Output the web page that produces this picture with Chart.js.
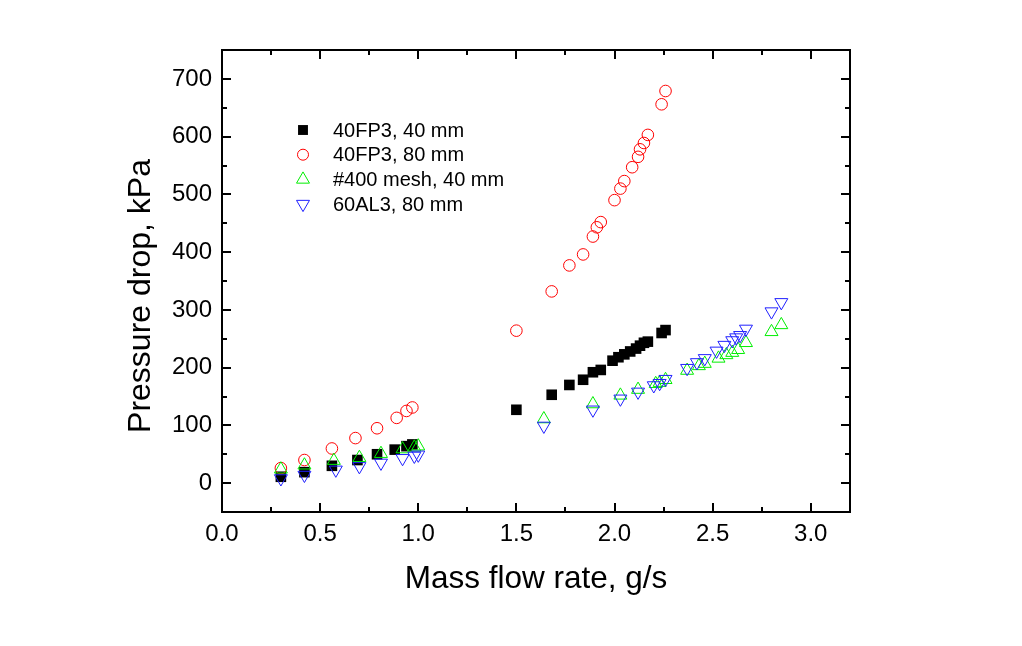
<!DOCTYPE html>
<html>
<head>
<meta charset="utf-8">
<script src="https://cdn.jsdelivr.net/npm/chart.js@4/dist/chart.umd.min.js"></script>
<style>
  html, body { margin: 0; padding: 0; background: #ffffff; }
  #wrap { width: 1022px; height: 646px; position: relative; }
</style>
</head>
<body>
<div id="wrap"><canvas id="c" width="1022" height="646"></canvas></div>
<script>
// ---- Data ----
const seriesNames = ["40FP3, 40 mm", "40FP3, 80 mm", "#400 mesh, 40 mm", "60AL3, 80 mm"];

const fp3_40_x = [0.30, 0.42, 0.56, 0.69, 0.79, 0.88, 0.94, 0.97,
                  1.50, 1.68, 1.77, 1.84, 1.89, 1.93, 1.99, 2.02, 2.05, 2.08, 2.11, 2.13, 2.15, 2.17, 2.24, 2.26];
const fp3_40_y = [11, 19, 30, 40, 50, 58, 64, 67,
                  127, 153, 170, 179, 192, 196, 212, 218, 223, 228, 233, 238, 243, 245, 260, 265];

const fp3_80_x = [0.30, 0.42, 0.56, 0.68, 0.79, 0.89, 0.94, 0.97,
                  1.50, 1.68, 1.77, 1.84, 1.89, 1.91, 1.93, 2.00, 2.03, 2.05, 2.09, 2.12, 2.13, 2.15, 2.17, 2.24, 2.26];
const fp3_80_y = [26, 40, 60, 78, 95, 113, 125, 131,
                  264, 332, 377, 396, 427, 443, 452, 490, 510, 523, 547, 565, 578, 589, 603, 656, 679];

const mesh_x = [0.30, 0.42, 0.57, 0.70, 0.81, 0.92, 0.98, 1.00,
                1.64, 1.89, 2.03, 2.12, 2.21, 2.23, 2.26, 2.37, 2.43, 2.46, 2.53, 2.57, 2.60, 2.63, 2.67, 2.80, 2.85];
const mesh_y = [24, 31, 39, 44, 51, 59, 62, 64,
                111, 137, 152, 162, 172, 174, 179, 195, 203, 207, 216, 222, 226, 231, 243, 262, 274];

const al3_x = [0.30, 0.42, 0.58, 0.70, 0.81, 0.92, 0.98, 1.00,
               1.64, 1.89, 2.03, 2.12, 2.20, 2.23, 2.26, 2.37, 2.42, 2.46, 2.52, 2.56, 2.60, 2.62, 2.64, 2.67, 2.80, 2.85];
const al3_y = [8, 14, 23, 29, 35, 43, 47, 49,
               99, 127, 146, 158, 169, 173, 180, 199, 209, 216, 229, 239, 247, 252, 256, 267, 297, 313];

const xTicks = [0.0, 0.5, 1.0, 1.5, 2.0, 2.5, 3.0];
const yTicks = [0, 100, 200, 300, 400, 500, 600, 700];
const xTitle = "Mass flow rate, g/s";
const yTitle = "Pressure drop, kPa";

// ---- Build chart ----
function pts(xs, ys) { return xs.map((x, i) => ({ x: x, y: ys[i] })); }

const FONT = "'Liberation Sans', Arial, sans-serif";

const datasets = [
  { label: seriesNames[0], data: pts(fp3_40_x, fp3_40_y), pointStyle: 'rect', pointRadius: 7.5,
    backgroundColor: '#000000', borderColor: '#000000', borderWidth: 0, order: 4 },
  { label: seriesNames[1], data: pts(fp3_80_x, fp3_80_y), pointStyle: 'circle', pointRadius: 5.8,
    backgroundColor: 'rgba(0,0,0,0)', borderColor: '#ff0000', borderWidth: 1, order: 3 },
  { label: seriesNames[2], data: pts(mesh_x, mesh_y), pointStyle: 'triangle', pointRadius: 7.5,
    backgroundColor: 'rgba(0,0,0,0)', borderColor: '#00ee00', borderWidth: 1, order: 2 },
  { label: seriesNames[3], data: pts(al3_x, al3_y), pointStyle: 'triangle', pointRotation: 180, pointRadius: 7.5,
    backgroundColor: 'rgba(0,0,0,0)', borderColor: '#2020ff', borderWidth: 1, order: 1 }
];

const frameTicks = {
  id: 'frameTicks',
  afterDatasetsDraw(chart) {
    const ctx = chart.ctx;
    const a = chart.chartArea;
    const xs = chart.scales.x, ys = chart.scales.y;
    ctx.save();
    ctx.strokeStyle = '#000';
    ctx.lineWidth = 2;
    ctx.strokeRect(a.left, a.top, a.right - a.left, a.bottom - a.top);
    const major = 9, minor = 5;
    ctx.lineWidth = 2;
    ctx.beginPath();
    for (let v = 0; v <= 3.2001; v += 0.25) {
      const p = Math.round(xs.getPixelForValue(v));
      const isMajor = Math.abs(v / 0.5 - Math.round(v / 0.5)) < 1e-6;
      const L = isMajor ? major : minor;
      if (p <= a.left + 1 || p >= a.right - 1) continue;
      ctx.moveTo(p, a.bottom); ctx.lineTo(p, a.bottom - L);
      ctx.moveTo(p, a.top); ctx.lineTo(p, a.top + L);
    }
    for (let v = -50; v <= 750; v += 50) {
      const p = Math.round(ys.getPixelForValue(v));
      const isMajor = (v % 100) === 0;
      const L = isMajor ? major : minor;
      if (p >= a.bottom - 1 || p <= a.top + 1) continue;
      ctx.moveTo(a.left, p); ctx.lineTo(a.left + L, p);
      ctx.moveTo(a.right, p); ctx.lineTo(a.right - L, p);
    }
    ctx.stroke();

    // y axis title
    ctx.save();
    ctx.translate(141, 296);
    ctx.rotate(-Math.PI / 2);
    ctx.font = "32px " + FONT;
    ctx.fillStyle = '#000';
    ctx.textAlign = 'center';
    ctx.textBaseline = 'middle';
    ctx.fillText(yTitle, 0, 0);
    ctx.restore();

    // legend
    const lx = 303, tx = 333, ly0 = 130, dy = 24.7;
    ctx.font = "20px " + FONT;
    ctx.textBaseline = 'middle';
    ctx.textAlign = 'left';
    chart.data.datasets.forEach((ds, i) => {
      const y = ly0 + i * dy;
      ctx.save();
      ctx.fillStyle = ds.backgroundColor;
      ctx.strokeStyle = ds.borderColor;
      ctx.lineWidth = ds.borderWidth;
      const r = ds.pointStyle === 'circle' ? 5.5 : (ds.pointStyle === 'rect' ? 7 : 7.5);
      Chart.helpers.drawPoint(ctx, { pointStyle: ds.pointStyle, rotation: ds.pointRotation || 0,
        radius: r, borderWidth: ds.borderWidth }, lx, y);
      ctx.restore();
      ctx.fillStyle = '#000';
      ctx.fillText(ds.label, tx, y + 1);
    });
    ctx.restore();
  }
};

new Chart(document.getElementById('c'), {
  type: 'scatter',
  data: { datasets: datasets },
  options: {
    responsive: false,
    animation: false,
    devicePixelRatio: 1,
    clip: false,
    layout: { padding: { left: 0, top: 50, right: 172, bottom: 0 } },
    plugins: { legend: { display: false }, tooltip: { enabled: false } },
    scales: {
      x: {
        type: 'linear', min: 0, max: 3.2,
        afterFit(s) { s.height = 134; },
        afterBuildTicks(s) { s.ticks = xTicks.map(v => ({ value: v })); },
        grid: { display: false, drawTicks: false, tickLength: 0 },
        border: { display: false },
        ticks: { color: '#000', font: { family: FONT, size: 24 }, padding: 8,
                 maxRotation: 0, autoSkip: false, callback: v => Number(v).toFixed(1) },
        title: { display: true, text: xTitle, color: '#000', font: { family: FONT, size: 31.5 },
                 padding: { top: 0, bottom: 48 } }
      },
      y: {
        type: 'linear', min: -50, max: 750,
        afterFit(s) { s.width = 222; },
        afterBuildTicks(s) { s.ticks = yTicks.map(v => ({ value: v })); },
        grid: { display: false, drawTicks: false, tickLength: 0 },
        border: { display: false },
        ticks: { color: '#000', font: { family: FONT, size: 24 }, padding: 10, autoSkip: false,
                 callback: v => String(v) },
        title: { display: false }
      }
    }
  },
  plugins: [frameTicks]
});
</script>
</body>
</html>
